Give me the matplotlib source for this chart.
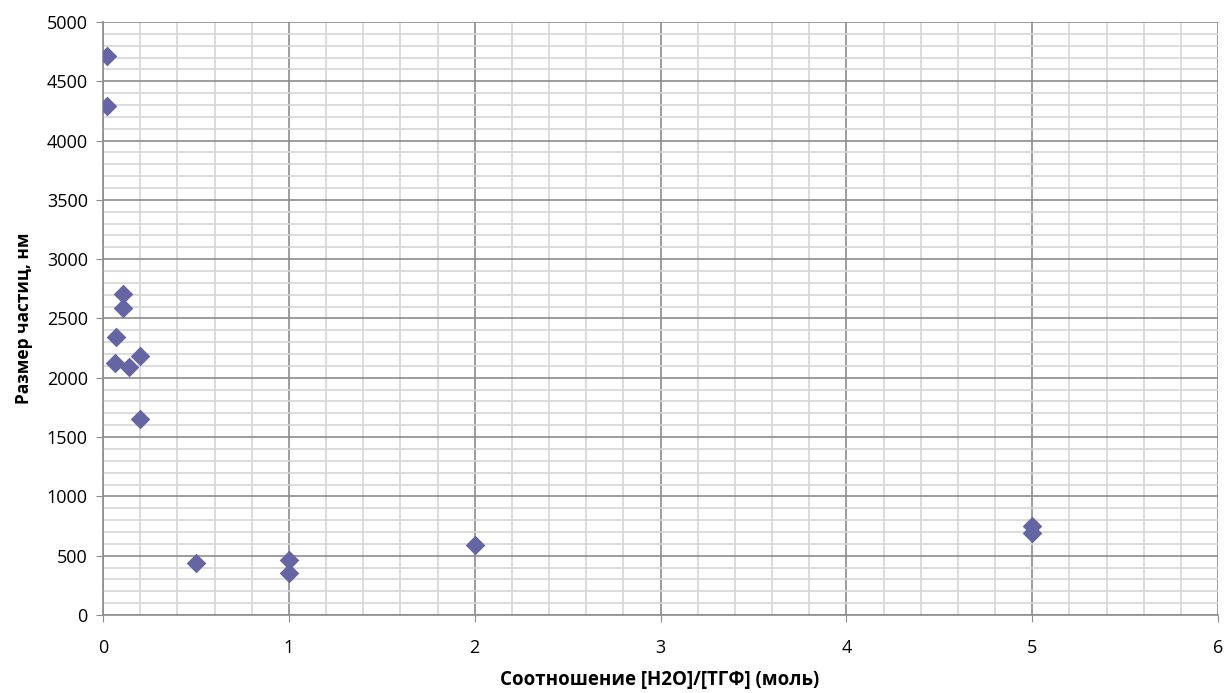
import matplotlib.pyplot as plt
from matplotlib.ticker import MultipleLocator

# Соотношение [H2O]/[ТГФ] и размер частиц
ratio = [0.023, 0.023, 0.105, 0.105, 0.07, 0.065, 0.14, 0.2, 0.2, 0.5, 1.0, 1.0, 2.0, 5.0, 5.0]
size_nm = [4716, 4292, 2707, 2587, 2341, 2125, 2093, 2184, 1650, 440, 462, 353, 590, 752, 692]

x_ticks = [0, 1, 2, 3, 4, 5, 6]
y_ticks = list(range(0, 5001, 500))

plt.rcParams['font.family'] = ['Open Sans', 'DejaVu Sans']

fig = plt.figure(figsize=(12.28, 6.93), dpi=100)
ax = fig.add_axes([0.0839, 0.1126, 0.908, 0.8557])

ax.scatter(ratio, size_nm, marker='D', s=10 ** 2, color='#6465a2', linewidths=0, zorder=3)

ax.set_xlim(0, 6)
ax.set_ylim(0, 5000)
ax.set_xticks(x_ticks)
ax.set_yticks(y_ticks)
ax.xaxis.set_minor_locator(MultipleLocator(0.2))
ax.yaxis.set_minor_locator(MultipleLocator(100))

ax.grid(True, which='major', color='#8c8c8c', lw=1.2, zorder=1)
ax.grid(True, which='minor', color='#d6d6d6', lw=1.2, zorder=0)
ax.set_axisbelow(True)

for side in ['top', 'right']:
    ax.spines[side].set_visible(False)
for side in ['left', 'bottom']:
    ax.spines[side].set_color('#8c8c8c')
    ax.spines[side].set_linewidth(1.2)

ax.tick_params(which='major', length=5, color='#8c8c8c', labelsize=13)
ax.tick_params(axis='x', pad=12)
ax.tick_params(axis='y', pad=6)
ax.tick_params(which='minor', length=0)

ax.set_ylabel('Размер частиц, нм', fontsize=12.5, fontweight='bold', labelpad=10)
fig.text(0.537, 0.004, 'Соотношение [H2O]/[ТГФ] (моль)', fontsize=13.5,
         fontweight='bold', ha='center', va='bottom')

fig.savefig('out.png', dpi=100)
